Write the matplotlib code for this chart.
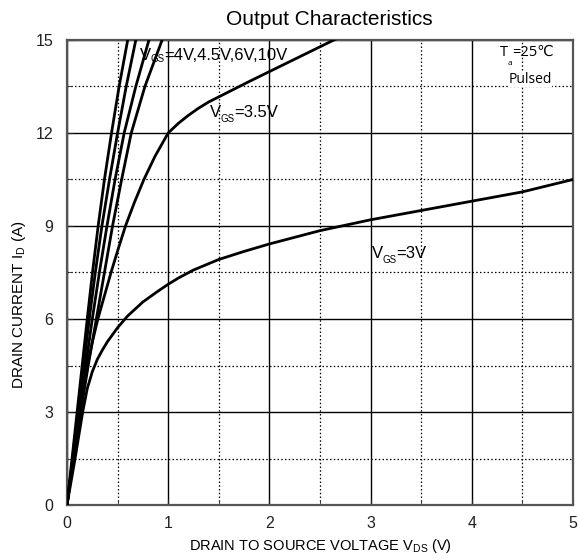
import matplotlib
matplotlib.use("Agg")
import matplotlib.pyplot as plt
from matplotlib.ticker import MultipleLocator

plt.rcParams['font.family'] = ['Liberation Sans', 'DejaVu Sans']
plt.rcParams['mathtext.fontset'] = 'custom'
plt.rcParams['mathtext.rm'] = 'Liberation Sans'

# curves (VDS in V, ID in A)
id_steep = [0, 1.5, 3.0, 4.5, 6.0, 7.5, 9.0, 10.5, 12.0, 13.5, 15.0]
vds_10v = [0, 0.05, 0.10, 0.15, 0.20, 0.252, 0.308, 0.37, 0.44, 0.515, 0.60]
vds_6v = [0, 0.055, 0.11, 0.165, 0.22, 0.28, 0.345, 0.42, 0.50, 0.585, 0.68]
vds_45v = [0, 0.06, 0.12, 0.185, 0.25, 0.32, 0.395, 0.475, 0.565, 0.68, 0.81]
vds_4v = [0, 0.065, 0.135, 0.21, 0.29, 0.37, 0.45, 0.54, 0.635, 0.77, 0.94]
vds_35v = [0, 0.06, 0.125, 0.2, 0.25, 0.305, 0.37, 0.435, 0.505, 0.578, 0.665,
           0.76, 0.87, 1.0, 1.1, 1.2, 1.3, 1.4, 1.6, 1.8, 2.0, 2.2, 2.4, 2.65]
id_35v = [0, 1.5, 3.0, 4.5, 5.25, 6.0, 6.75, 7.5, 8.25, 9.0, 9.75,
          10.5, 11.25, 12.0, 12.31, 12.57, 12.8, 13.0, 13.33, 13.66, 13.98, 14.3, 14.62, 15.02]
vds_3v = [0, 0.08, 0.155, 0.2, 0.25, 0.3, 0.35, 0.4, 0.5, 0.6, 0.75, 0.9, 1.0,
          1.1, 1.25, 1.5, 1.75, 2.0, 2.5, 3.0, 3.5, 4.0, 4.5, 5.0]
id_3v = [0, 1.5, 3.0, 3.75, 4.3, 4.7, 5.0, 5.27, 5.72, 6.1, 6.55, 6.9, 7.12,
         7.32, 7.58, 7.92, 8.18, 8.42, 8.85, 9.2, 9.5, 9.8, 10.1, 10.5]

fig = plt.figure(figsize=(5.78, 5.6), dpi=100)
ax = fig.add_axes([0.1159, 0.0982, 0.8754, 0.8304])

for xs, ys in [(vds_10v, id_steep), (vds_6v, id_steep), (vds_45v, id_steep),
               (vds_4v, id_steep), (vds_35v, id_35v), (vds_3v, id_3v)]:
    ax.plot(xs, ys, color='black', lw=2, solid_joinstyle='round', zorder=3)

ax.set_xlim(0, 5)
ax.set_ylim(0, 15)
ax.xaxis.set_major_locator(MultipleLocator(1))
ax.xaxis.set_minor_locator(MultipleLocator(0.5))
ax.yaxis.set_major_locator(MultipleLocator(3))
ax.yaxis.set_minor_locator(MultipleLocator(1.5))
ax.grid(which='major', color='black', lw=1, zorder=1)
ax.grid(which='minor', color='black', lw=0.9, ls=(0, (1.2, 1.8)), zorder=1)
ax.tick_params(which='both', direction='in', labelsize=11.5, colors='#222222')
ax.tick_params(which='major', length=4)
ax.tick_params(which='minor', length=3)
ax.tick_params(axis='x', pad=8)
ax.tick_params(axis='y', pad=10)
for s in ax.spines.values():
    s.set_linewidth(1.6)
    s.set_color('#555555')

fig.text(329 / 578, 1 - 25 / 560, 'Output Characteristics', fontsize=15,
         ha='center', va='baseline')
ax.set_xlabel(r'DRAIN TO SOURCE VOLTAGE V$_{\mathrm{DS}}$ (V)', fontsize=10.5)
ax.set_ylabel(r'DRAIN CURRENT I$_{\mathrm{D}}$ (A)', fontsize=11)
ax.xaxis.set_label_coords(0.5, -0.069)
ax.yaxis.set_label_coords(-0.077, 0.43)

renderer = fig.canvas.get_renderer()


def sub_text(x, y, main, sub, rest, size, sub_size, drop, family=None):
    # main text, small lowered subscript, then the rest, all on one baseline
    kw = dict(va='baseline', ha='left', zorder=4)
    if family:
        kw['family'] = family
    t1 = ax.text(x, y, main, fontsize=size, **kw)
    w1 = t1.get_window_extent(renderer).width
    t2 = ax.annotate(sub, (x, y), xytext=(w1, -drop), textcoords='offset pixels',
                     fontsize=sub_size, **kw)
    w2 = t2.get_window_extent(renderer).width
    ax.annotate(rest, (x, y), xytext=(w1 + w2 - 1, 0), textcoords='offset pixels',
                fontsize=size, **kw)


sub_text(0.72, 14.35, 'V', 'GS', '=4V,4.5V,6V,10V', 12, 7, 2)
sub_text(1.41, 12.52, 'V', 'GS', '=3.5V', 12, 7, 5)
sub_text(3.01, 7.96, 'V', 'GS', '=3V', 12, 7, 5)
sub_text(4.28, 14.49, 'T', 'a', '=25℃', 10.5, 6, 9, family=['Open Sans', 'DejaVu Sans'])
ax.text(4.36, 13.62, 'Pulsed', fontsize=10, va='baseline', ha='left',
        family=['Open Sans', 'DejaVu Sans'],
        bbox=dict(facecolor='white', edgecolor='none', pad=0.3), zorder=4)

fig.savefig('out.png', dpi=100)
